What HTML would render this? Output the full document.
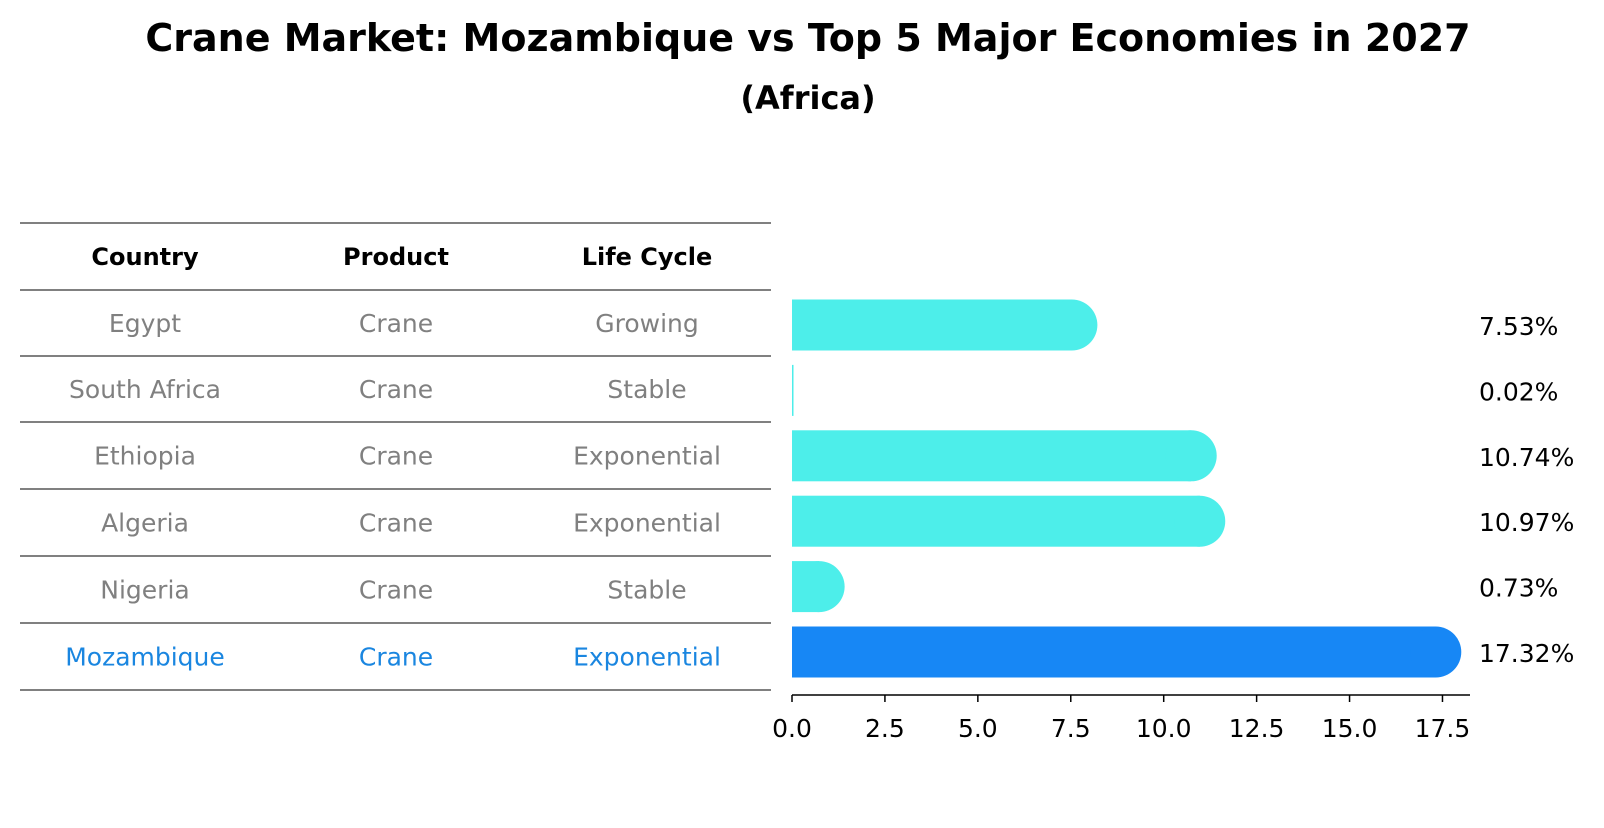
<!DOCTYPE html>
<html><head><meta charset="utf-8"><style>
body{margin:0;background:#fff;font-family:"Liberation Sans","DejaVu Sans",sans-serif;}
svg text{font-family:"DejaVu Sans","Liberation Sans",sans-serif;}
</style></head><body>
<svg width="1604" height="823" viewBox="0 0 1604 823" xmlns="http://www.w3.org/2000/svg">
<text x="808" y="51" text-anchor="middle" font-size="38" font-weight="bold">Crane Market: Mozambique vs Top 5 Major Economies in 2027</text>
<text x="808" y="109" text-anchor="middle" font-size="32" font-weight="bold">(Africa)</text>
<g id="table"></g>
<g id="bars"></g>
<g id="axis"></g>
</svg>
<script>
const countries=["Egypt","South Africa","Ethiopia","Algeria","Nigeria","Mozambique"];
const products=["Crane","Crane","Crane","Crane","Crane","Crane"];
const lifeCycles=["Growing","Stable","Exponential","Exponential","Stable","Exponential"];
const values=[7.53,0.02,10.74,10.97,0.73,17.32];
const tickValues=[0,2.5,5,7.5,10,12.5,15,17.5];
const tickLabels=["0.0","2.5","5.0","7.5","10.0","12.5","15.0","17.5"];

const NS="http://www.w3.org/2000/svg";
function mk(tag,attrs,parent,text){const e=document.createElementNS(NS,tag);for(const k in attrs)e.setAttribute(k,attrs[k]);if(text!==undefined)e.textContent=text;parent.appendChild(e);return e;}
const x0=792,pxPer=37.17;
const xs=v=>x0+v*pxPer;
const rowCenter=i=>325+i*65.4;
const tbl=document.getElementById('table'),bars=document.getElementById('bars'),axis=document.getElementById('axis');
const lineYs=[223,290,356,422,489,556,623,690];
const colX=[145,396,647];
lineYs.forEach((y,i)=>{const l=mk('line',{x1:20,x2:771,y1:y,y2:y,stroke:'#000','stroke-width':1},tbl);
});
["Country","Product","Life Cycle"].forEach((h,j)=>{const t=mk('text',{x:colX[j],y:265,'text-anchor':'middle','font-size':24,'font-weight':'bold'},tbl,h);
});
countries.forEach((c,i)=>{
 const last=i===countries.length-1;const col=last?'#1a86e0':'#808080';
 const y=(lineYs[i+1]+lineYs[i+2])/2+9;
 [c,products[i],lifeCycles[i]].forEach((v,j)=>{const t=mk('text',{x:colX[j],y:y,'text-anchor':'middle','font-size':25,fill:col},tbl,v);
 });
 const cy=rowCenter(i),h=51,color=last?'#1787f5':'#4deeea';
 const xe=xs(values[i]);
 const r=mk('rect',{x:x0,y:cy-h/2,width:Math.max(xe-x0,1.5),height:h,fill:color},bars);
 
 if(values[i]>0.1){const ci=mk('circle',{cx:xe,cy:cy,r:h/2,fill:color},bars);
 }
 const t=mk('text',{x:1479,y:cy+10,'font-size':25},bars,values[i].toFixed(2)+'%');
 
});
const al=mk('line',{x1:x0,x2:1470,y1:695,y2:695,stroke:'#000','stroke-width':1.5},axis);

tickValues.forEach((v,i)=>{const x=xs(v);
 const tk=mk('line',{x1:x,x2:x,y1:695,y2:702,stroke:'#000','stroke-width':1.5},axis);
 
 const t=mk('text',{x:x,y:737,'text-anchor':'middle','font-size':25},axis,tickLabels[i]);
 });
</script>
</body></html>
